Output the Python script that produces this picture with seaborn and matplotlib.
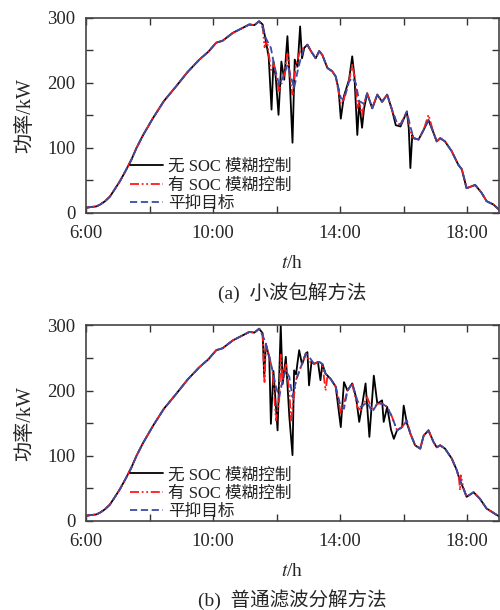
import matplotlib
matplotlib.use("Agg")
import matplotlib.pyplot as plt
import seaborn as sns
import pandas as pd
from matplotlib.ticker import MultipleLocator

# ---------------- data ----------------
morning_t = [6.0, 6.15, 6.33, 6.45, 6.6, 6.75, 6.9, 7.07, 7.25, 7.43, 7.59, 7.8, 8.11, 8.45,
             8.84, 9.2, 9.57, 9.85, 10.1, 10.3, 10.62, 10.9, 11.14, 11.3, 11.45]
morning_P = [8, 9, 10, 13, 18, 25, 36, 49, 65, 82, 100, 120, 146, 172,
             195, 217, 236, 248, 262, 265, 277, 284, 290, 289, 295]

# (a) wavelet packet
a_target_t = [11.56, 11.66, 11.82, 11.92, 12.08, 12.24, 12.34, 12.45, 12.55, 12.66, 12.76, 12.87,
              12.97, 13.08, 13.23, 13.34, 13.44, 13.6, 13.75, 13.86, 14.02, 14.12, 14.28, 14.38,
              14.49, 14.6, 14.75, 14.85, 15.01, 15.17, 15.32, 15.48, 15.63, 15.79, 15.9, 16.1,
              16.21, 16.31, 16.47, 16.63, 16.78, 16.94, 17.04, 17.15, 17.3, 17.51, 17.72, 17.83,
              17.98, 18.25, 18.45, 18.61, 18.82, 19.0]
a_target_P = [285, 269, 254, 228, 197, 213, 228, 210, 192, 218, 238, 254,
              259, 249, 238, 249, 243, 223, 218, 210, 177, 174, 202, 208,
              200, 172, 168, 184, 161, 182, 171, 182, 159, 138, 136, 156,
              133, 115, 113, 128, 143, 123, 110, 115, 110, 95, 74, 67,
              38, 43, 31, 18, 13, 5]
a_black_t = [11.56, 11.66, 11.75, 11.84, 11.9, 11.97, 12.06, 12.15, 12.24, 12.34, 12.42, 12.5,
             12.57, 12.66, 12.74, 12.8, 12.87, 12.97, 13.08, 13.23, 13.34, 13.44, 13.6, 13.75,
             13.86, 13.95, 14.02, 14.12, 14.28, 14.38, 14.45, 14.54, 14.6, 14.69, 14.75, 14.85,
             15.01, 15.17, 15.32, 15.48, 15.63, 15.75, 15.9, 16.1, 16.16, 16.21, 16.27, 16.31,
             16.47, 16.63, 16.78, 16.94, 17.04, 17.15, 17.3, 17.51, 17.72, 17.83, 17.98, 18.25,
             18.45, 18.61, 18.82, 19.0]
a_black_P = [290, 265, 240, 159, 233, 210, 151, 233, 205, 272, 197, 108,
             236, 225, 287, 238, 254, 259, 249, 238, 249, 243, 223, 218,
             210, 190, 145, 180, 205, 241, 210, 120, 170, 131, 160, 184,
             161, 182, 171, 182, 159, 135, 133, 156, 130, 69, 120, 115,
             113, 128, 143, 123, 110, 115, 110, 95, 74, 67, 38, 43,
             31, 18, 13, 5]
a_red_t = [11.56, 11.62, 11.7, 11.82, 11.92, 12.08, 12.24, 12.34, 12.45, 12.5, 12.6, 12.74,
           12.87, 12.97, 13.08, 13.23, 13.34, 13.44, 13.6, 13.75, 13.86, 14.02, 14.12, 14.28,
           14.38, 14.49, 14.54, 14.6, 14.69, 14.75, 14.85, 15.01, 15.17, 15.32, 15.48, 15.63,
           15.79, 15.9, 16.1, 16.21, 16.31, 16.47, 16.63, 16.78, 16.94, 17.04, 17.15, 17.3,
           17.51, 17.72, 17.83, 17.98, 18.25, 18.45, 18.61, 18.82, 19.0]
a_red_P = [287, 255, 265, 220, 228, 187, 213, 245, 200, 182, 225, 250,
           254, 259, 249, 238, 249, 243, 223, 218, 210, 168, 176, 204,
           228, 200, 160, 172, 150, 168, 184, 161, 182, 171, 182, 159,
           138, 136, 156, 125, 115, 113, 128, 151, 123, 110, 115, 110,
           95, 74, 67, 38, 43, 31, 18, 13, 5]

# (b) ordinary filter
b_target_t = [11.56, 11.66, 11.77, 11.87, 11.98, 12.08, 12.19, 12.29, 12.4, 12.5, 12.61, 12.76,
              12.92, 13.02, 13.18, 13.34, 13.44, 13.54, 13.7, 13.86, 14.02, 14.12, 14.23, 14.38,
              14.54, 14.65, 14.85, 15.01, 15.17, 15.32, 15.48, 15.63, 15.79, 15.95, 16.1, 16.21,
              16.36, 16.52, 16.63, 16.78, 16.94, 17.04, 17.15, 17.3, 17.51, 17.67, 17.77, 17.88,
              17.98, 18.2, 18.4, 18.61, 18.87, 19.0]
b_target_P = [285, 272, 252, 231, 206, 190, 216, 231, 221, 190, 216, 236,
              257, 252, 241, 244, 241, 226, 218, 206, 175, 172, 200, 211,
              185, 175, 182, 167, 180, 180, 175, 160, 139, 144, 154, 134,
              116, 111, 131, 139, 121, 113, 116, 111, 96, 78, 62, 50,
              37, 44, 34, 19, 11, 7]
b_black_t = [11.56, 11.61, 11.66, 11.77, 11.82, 11.9, 12.03, 12.13, 12.19, 12.29, 12.4, 12.5,
             12.55, 12.61, 12.71, 12.8, 12.92, 12.97, 13.02, 13.1, 13.18, 13.3, 13.38, 13.44,
             13.54, 13.7, 13.86, 14.02, 14.12, 14.23, 14.38, 14.5, 14.6, 14.7, 14.8, 14.92,
             15.06, 15.17, 15.32, 15.37, 15.48, 15.6, 15.69, 15.79, 15.95, 16.0, 16.1, 16.21,
             16.36, 16.52, 16.63, 16.78, 16.94, 17.04, 17.15, 17.3, 17.51, 17.67, 17.77, 17.88,
             17.98, 18.2, 18.4, 18.61, 18.87, 19.0]
b_black_P = [288, 221, 272, 250, 149, 230, 139, 300, 210, 252, 160, 101,
             231, 225, 262, 240, 257, 259, 208, 245, 241, 244, 216, 241,
             226, 218, 206, 144, 213, 200, 211, 190, 152, 180, 211, 129,
             223, 180, 185, 152, 175, 140, 126, 139, 144, 177, 150, 134,
             116, 111, 131, 139, 121, 113, 116, 111, 96, 78, 62, 50,
             37, 44, 34, 19, 11, 7]
b_red_t = [11.56, 11.62, 11.66, 11.77, 11.87, 11.98, 12.08, 12.13, 12.19, 12.29, 12.4, 12.45,
           12.5, 12.61, 12.76, 12.92, 13.02, 13.18, 13.34, 13.44, 13.54, 13.6, 13.7, 13.86,
           14.02, 14.12, 14.23, 14.38, 14.54, 14.65, 14.85, 15.01, 15.17, 15.32, 15.48, 15.63,
           15.79, 15.95, 16.1, 16.21, 16.36, 16.52, 16.63, 16.78, 16.94, 17.04, 17.15, 17.3,
           17.51, 17.67, 17.74, 17.77, 17.8, 17.88, 17.98, 18.2, 18.4, 18.61, 18.87, 19.0]
b_red_P = [285, 211, 272, 252, 231, 154, 185, 255, 216, 240, 200, 154,
           175, 216, 236, 257, 245, 241, 244, 241, 200, 222, 218, 206,
           165, 180, 200, 211, 175, 170, 190, 170, 180, 180, 175, 160,
           139, 144, 154, 134, 116, 111, 131, 139, 121, 113, 116, 111,
           96, 78, 66, 47, 70, 50, 37, 44, 34, 19, 11, 7]

labels = ["无 SOC 模糊控制", "有 SOC 模糊控制", "平抑目标"]
x_ticks = [6, 10, 14, 18]
x_ticklabels = ["6:00", "10:00", "14:00", "18:00"]
y_ticks = [0, 100, 200, 300]
captions = ["(a)  小波包解方法", "(b)  普通滤波分解方法"]

# ---------------- style ----------------
sns.set_theme(style="ticks")
plt.rcParams["font.family"] = ["Liberation Serif", "Noto Sans CJK SC"]
plt.rcParams["mathtext.fontset"] = "stix"
plt.rcParams["axes.unicode_minus"] = False

fig = plt.figure(figsize=(5.0, 6.1), dpi=100)
ax_a = fig.add_axes([0.172, 0.651, 0.826, 0.3195])
ax_b = fig.add_axes([0.172, 0.146, 0.826, 0.3205])

black_c = "#000000"
red_c = "#ff1a1a"
blue_c = "#3c4ca6"


def draw(ax, bt, bp, rt, rp, tt, tp):
    dfb = pd.DataFrame({"t": morning_t + bt, "P": morning_P + bp})
    dfr = pd.DataFrame({"t": morning_t + rt, "P": morning_P + rp})
    dft = pd.DataFrame({"t": morning_t + tt, "P": morning_P + tp})
    sns.lineplot(data=dfb, x="t", y="P", ax=ax, color=black_c, lw=1.3,
                 estimator=None, sort=False, label=labels[0])
    sns.lineplot(data=dfr, x="t", y="P", ax=ax, color=red_c, lw=1.3,
                 linestyle=(0, (5, 1.5, 1, 1.5, 1, 1.5)),
                 estimator=None, sort=False, label=labels[1])
    sns.lineplot(data=dft, x="t", y="P", ax=ax, color=blue_c, lw=1.3,
                 linestyle=(0, (4, 2)),
                 estimator=None, sort=False, label=labels[2])
    ax.set_xlim(6, 19)
    ax.set_ylim(0, 300)
    ax.set_xticks(x_ticks)
    ax.set_xticklabels(x_ticklabels)
    ax.set_yticks(y_ticks)
    ax.xaxis.set_minor_locator(MultipleLocator(2))
    ax.yaxis.set_minor_locator(MultipleLocator(50))
    ax.tick_params(which="both", direction="in", top=True, right=True,
                   length=5, width=1, color="#333333", labelsize=13.5)
    ax.tick_params(axis="x", pad=9)
    ax.tick_params(axis="y", pad=7.5)
    for s in ax.spines.values():
        s.set_color("#444444")
        s.set_linewidth(1.2)
    ax.set_xlabel("$t$/h", fontsize=14, labelpad=9)
    ax.set_ylabel("功率/kW", fontsize=14.5, labelpad=9)
    leg = ax.legend(loc="lower left", bbox_to_anchor=(0.09, -0.03), frameon=False,
                    fontsize=12, handlelength=2.0, handletextpad=0.3,
                    labelspacing=0.15, borderaxespad=0)
    for txt in leg.get_texts():
        txt.set_color("#222222")


draw(ax_a, a_black_t, a_black_P, a_red_t, a_red_P, a_target_t, a_target_P)
draw(ax_b, b_black_t, b_black_P, b_red_t, b_red_P, b_target_t, b_target_P)

fig.text(0.585, 0.521, captions[0], ha="center", va="center", fontsize=14)
fig.text(0.585, 0.017, captions[1], ha="center", va="center", fontsize=14)

fig.savefig("out.png", dpi=100)
